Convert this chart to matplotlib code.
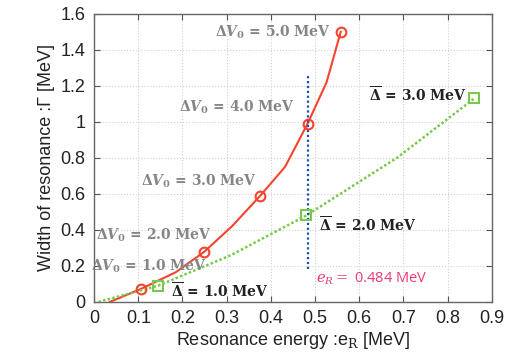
import matplotlib
matplotlib.use("Agg")
import matplotlib.pyplot as plt

# Red curve (ΔV0 scan): vertices every 0.5 MeV, circles at integer values
red_x = [0.036, 0.106, 0.185, 0.249, 0.312, 0.376, 0.432, 0.483, 0.526, 0.558]
red_y = [0.0, 0.072, 0.165, 0.278, 0.42, 0.59, 0.75, 0.99, 1.22, 1.50]
red_mark_x = [0.106, 0.249, 0.376, 0.483, 0.558]
red_mark_y = [0.072, 0.278, 0.59, 0.99, 1.50]

# Green curve (Δbar scan)
green_x = [0.01, 0.145, 0.31, 0.48, 0.685, 0.86]
green_y = [0.0, 0.09, 0.26, 0.48, 0.80, 1.13]
green_mark_x = [0.145, 0.48, 0.86]
green_mark_y = [0.09, 0.48, 1.13]

eR = 0.484
eR_ymin, eR_ymax = 0.18, 1.255

xticks = [0, 0.1, 0.2, 0.3, 0.4, 0.5, 0.6, 0.7, 0.8, 0.9]
xticklabels = ["0", "0.1", "0.2", "0.3", "0.4", "0.5", "0.6", "0.7", "0.8", "0.9"]
yticks = [0, 0.2, 0.4, 0.6, 0.8, 1.0, 1.2, 1.4, 1.6]
yticklabels = ["0", "0.2", "0.4", "0.6", "0.8", "1", "1.2", "1.4", "1.6"]

dv_labels = ["1.0", "2.0", "3.0", "4.0", "5.0"]
dv_pos = [(0.256, 0.195), (0.267, 0.37), (0.369, 0.67), (0.455, 1.08), (0.536, 1.495)]
db_labels = ["1.0", "2.0", "3.0"]
db_pos = [(0.394, 0.06), (0.731, 0.43), (0.842, 1.15)]

plt.rcParams['font.family'] = ['Liberation Sans', 'DejaVu Sans']
plt.rcParams['mathtext.fontset'] = 'dejavuserif'

fig = plt.figure(figsize=(5.14, 3.56), dpi=100)
ax = fig.add_axes([0.183, 0.152, 0.774, 0.809])

ax.plot(red_x, red_y, color='#f4442e', lw=1.5, zorder=3)
ax.plot(red_mark_x, red_mark_y, 'o', mfc='none', mec='#f4442e', mew=1.5, ms=7, zorder=4)
ax.plot(green_x, green_y, color='#77c94a', lw=1.8, ls=(0, (1.0, 0.9)), zorder=3)
ax.plot(green_mark_x, green_mark_y, 's', mfc='none', mec='#77c94a', mew=1.5, ms=7, zorder=4)
ax.vlines(eR, eR_ymin, eR_ymax, colors='#1a4fb0', lw=1.6, linestyles=(0, (1, 1.2)), zorder=3)

for lab, (x, y) in zip(dv_labels, dv_pos):
    ax.text(x, y, r'$\mathbf{\Delta}\boldsymbol{V}_{\mathbf{0}}\mathbf{\,=\,' + lab + r'\ MeV}$',
            color='#858585', fontsize=10, ha='right', va='center', zorder=5)
for lab, (x, y) in zip(db_labels, db_pos):
    ax.text(x, y, r'$\mathbf{\overline{\Delta}\,=\,' + lab + r'\ MeV}$',
            color='#222222', fontsize=10, ha='right', va='center', zorder=5)
ax.text(0.503, 0.13, r'$e_R=$' + ' 0.484 MeV', color='#ea3a74', fontsize=10.5,
        family='Open Sans', ha='left', va='center', zorder=5)

ax.set_xlim(0, 0.9)
ax.set_ylim(0, 1.6)
ax.set_xticks(xticks)
ax.set_xticklabels(xticklabels)
ax.set_yticks(yticks)
ax.set_yticklabels(yticklabels)
ax.tick_params(direction='in', top=True, right=True, length=4, color='#555555',
               labelsize=13, labelcolor='#222222', pad=6)
ax.grid(True, color='#cfcfcf', ls=':', lw=0.8)
for s in ax.spines.values():
    s.set_color('#666666')
    s.set_linewidth(1.0)

ax.set_xlabel('Resonance energy :e$_\\mathrm{R}$ [MeV]', fontsize=13, color='#222222', labelpad=2)
ax.set_ylabel('Width of resonance :Γ [MeV]', fontsize=13, color='#222222', labelpad=4)

fig.savefig('out.png', dpi=100)
